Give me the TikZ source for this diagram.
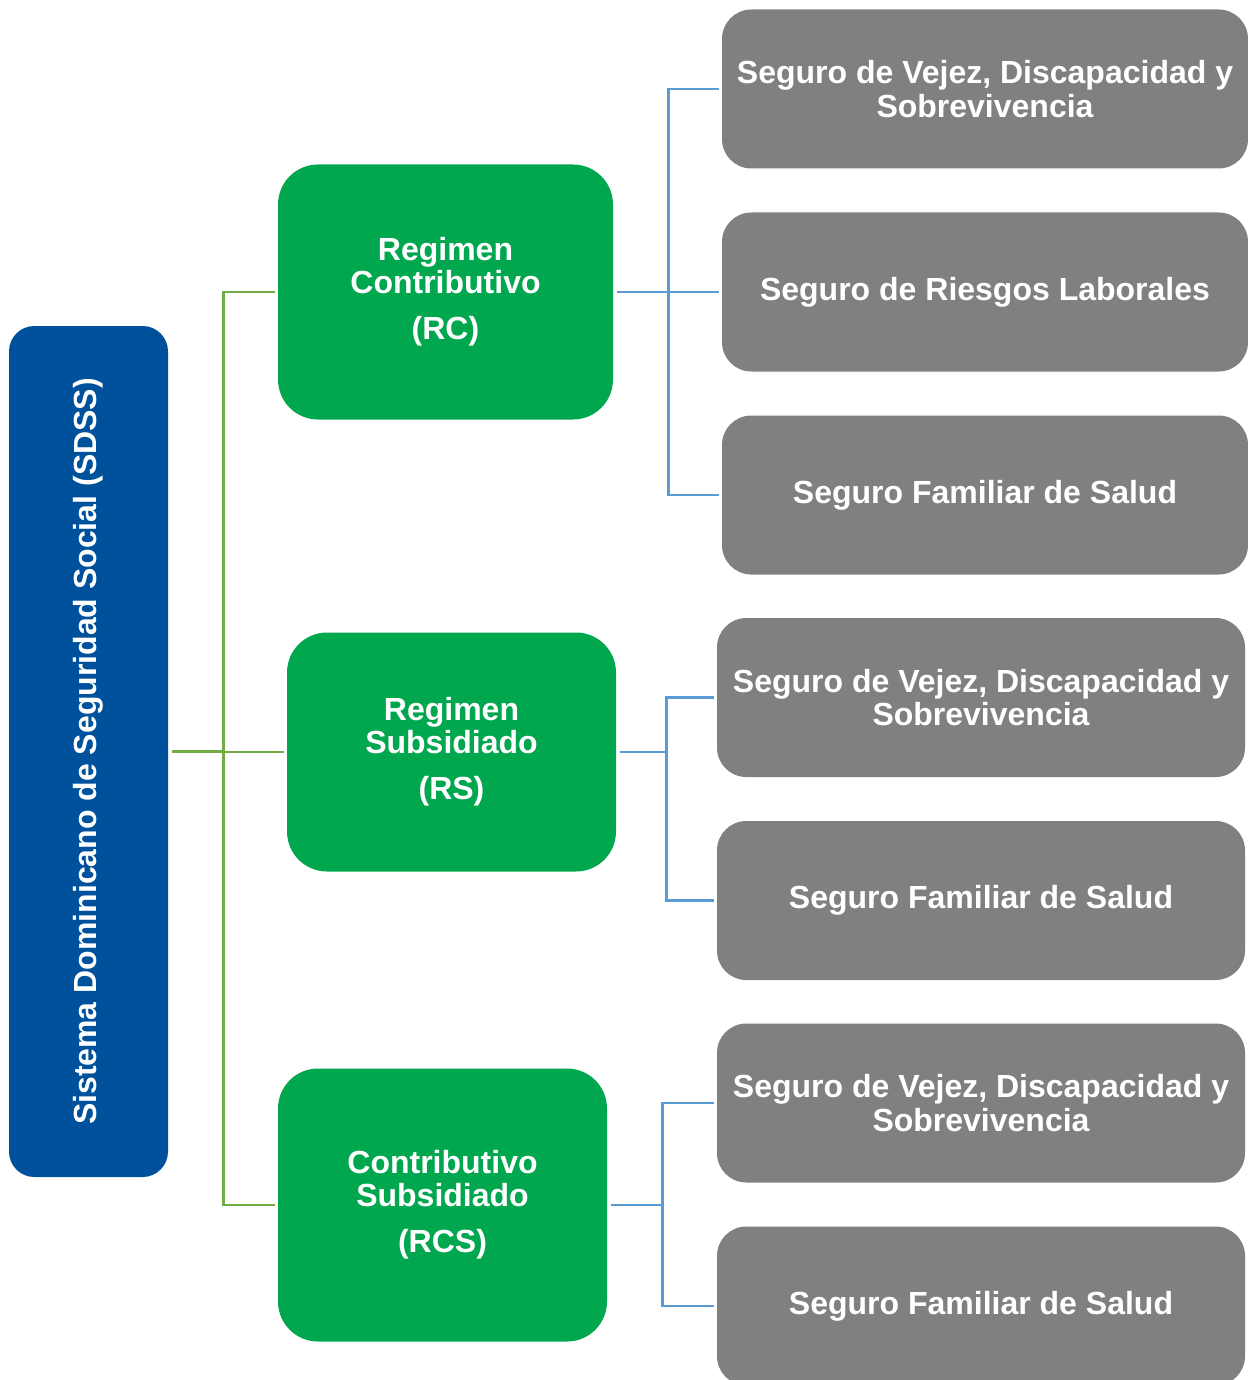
\documentclass[tikz,border=0pt]{standalone}
\usepackage{fontspec}
\setmainfont{Liberation Sans}
\usepackage{graphicx}
\definecolor{azul}{HTML}{00519B}
\definecolor{verde}{HTML}{00A74F}
\definecolor{gris}{HTML}{808080}
\definecolor{lineaverde}{HTML}{70AD47}
\definecolor{lineaazul}{HTML}{5B9BD5}
\tikzset{
    caja/.style={text=white,font=\fontsize{24}{25}\selectfont\bfseries,align=center,inner sep=2pt},
    sistema/.style={caja,fill=azul,rounded corners=19pt,minimum width=0.75*159pt,minimum height=0.75*851pt},
    regimen/.style={caja,fill=verde,rounded corners=30pt},
    seguro/.style={caja,fill=gris,rounded corners=22pt,minimum height=0.75*159pt},
    tronco/.style={draw=lineaverde,line width=1.9pt,shorten <=2.5pt,shorten >=2pt},
    rama/.style={draw=lineaazul,line width=1.9pt,shorten <=2.5pt,shorten >=2pt}
}
\begin{document}
\begin{tikzpicture}[x=0.75pt,y=-0.75pt]
\useasboundingbox (0,0) rectangle (1248,1380);
\clip (0,0) rectangle (1248,1380);
\node[sistema] (sdss) at (88.5,751.5) {\rotatebox{90}{Sistema Dominicano de Seguridad Social (SDSS)}};

\node[regimen,minimum width=0.75*335pt,minimum height=0.75*255pt] (rc) at (445.5,292) {Regimen\\Contributivo\\[9.5pt](RC)};
\node[regimen,minimum width=0.75*329pt,minimum height=0.75*239pt] (rs) at (451.5,752) {Regimen\\Subsidiado\\[9.5pt](RS)};
\node[regimen,minimum width=0.75*329pt,minimum height=0.75*273pt] (rcs) at (442.5,1205) {Contributivo\\Subsidiado\\[9.5pt](RCS)};

% seguros del RC
\node[seguro,minimum width=0.75*526pt] (rcvejez) at (985,89) {Seguro de Vejez, Discapacidad y\\Sobrevivencia};
\node[seguro,minimum width=0.75*526pt] (rcriesgos) at (985,292) {Seguro de Riesgos Laborales};
\node[seguro,minimum width=0.75*526pt] (rcsalud) at (985,495) {Seguro Familiar de Salud};
% seguros del RS
\node[seguro,minimum width=0.75*528pt] (rsvejez) at (981,697.5) {Seguro de Vejez, Discapacidad y\\Sobrevivencia};
\node[seguro,minimum width=0.75*528pt] (rssalud) at (981,900.5) {Seguro Familiar de Salud};
% seguros del RCS
\node[seguro,minimum width=0.75*528pt] (rcsvejez) at (981,1103) {Seguro de Vejez, Discapacidad y\\Sobrevivencia};
\node[seguro,minimum width=0.75*528pt] (rcssalud) at (981,1306) {Seguro Familiar de Salud};

\foreach \r in {rc,rs,rcs}
    \draw[tronco] (sdss.east) -- ++(55,0) |- (\r.west);

\foreach \s in {rcvejez,rcriesgos,rcsalud}
    \draw[rama] (rc.east) -- ++(55,0) |- (\s.west);
\foreach \s in {rsvejez,rssalud}
    \draw[rama] (rs.east) -- ++(50,0) |- (\s.west);
\foreach \s in {rcsvejez,rcssalud}
    \draw[rama] (rcs.east) -- ++(55,0) |- (\s.west);
\end{tikzpicture}
\end{document}
